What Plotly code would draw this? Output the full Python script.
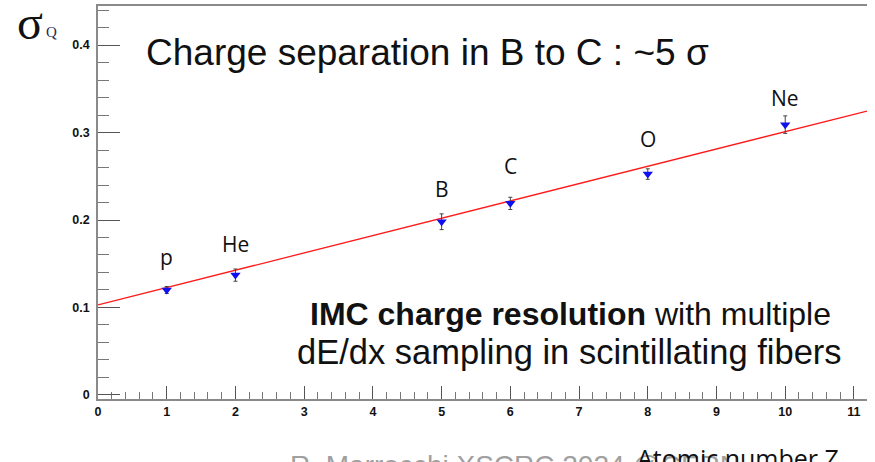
import plotly.graph_objects as go

# ---- data ----
elements = ["p", "He", "B", "C", "O", "Ne"]
atomic_z = [1, 2, 5, 6, 8, 10]
sigma_q = [0.120, 0.137, 0.198, 0.219, 0.2525, 0.309]
sigma_err = [0.004, 0.007, 0.009, 0.007, 0.006, 0.010]
fit_x = [0.0, 11.19]
fit_y = [0.103, 0.3245]
label_y = [0.158, 0.173, 0.236, 0.262, 0.293, 0.340]

W, H = 875, 462
L, R, T, B = 98, 8, 6, 63


def px(xp):
    return (xp - L) / (W - L - R)


def py(yp):
    return 1 - (yp - T) / (H - T - B)


fig = go.Figure()

fig.add_trace(go.Scatter(
    x=fit_x, y=fit_y, mode="lines",
    line=dict(color="#ff1a1a", width=1.3),
    hoverinfo="skip", showlegend=False))

fig.add_trace(go.Scatter(
    x=atomic_z, y=sigma_q, mode="markers",
    marker=dict(symbol="triangle-down", color="#1010ee", size=9, line=dict(width=0)),
    error_y=dict(type="data", array=sigma_err, visible=True,
                 color="#444444", thickness=1, width=2),
    showlegend=False))

for name, z, ly in zip(elements, atomic_z, label_y):
    fig.add_annotation(x=z, y=ly, text=name, showarrow=False,
                       xref="x", yref="y",
                       font=dict(family="Open Sans", size=21, color="#111111"))

fig.add_annotation(x=px(144), y=py(52), xref="paper", yref="paper",
                   text="Charge separation in B to C : ~5 σ",
                   showarrow=False, xanchor="left", yanchor="middle",
                   font=dict(family="Liberation Sans", size=37, color="#111111"))

fig.add_annotation(x=px(570), y=py(314), xref="paper", yref="paper",
                   text="<b>IMC charge resolution</b> with multiple",
                   showarrow=False, xanchor="center", yanchor="middle",
                   font=dict(family="Liberation Sans", size=32, color="#111111"))
fig.add_annotation(x=px(569), y=py(352), xref="paper", yref="paper",
                   text="dE/dx sampling in scintillating fibers",
                   showarrow=False, xanchor="center", yanchor="middle",
                   font=dict(family="Liberation Sans", size=34.5, color="#111111"))

# axis title symbol
fig.add_annotation(x=px(30), y=py(22), xref="paper", yref="paper", text="σ",
                   showarrow=False, xanchor="center", yanchor="middle",
                   font=dict(family="Liberation Serif", size=48, color="#111111"))
fig.add_annotation(x=px(51), y=py(32), xref="paper", yref="paper", text="Q",
                   showarrow=False, xanchor="center", yanchor="middle",
                   font=dict(family="Liberation Serif", size=15, color="#2a2a55"))

# bottom texts (partly cut by the picture edge)
fig.add_annotation(x=px(288), y=py(465), xref="paper", yref="paper",
                   text="R. Marrocchi XSCRC 2024 @CERN",
                   showarrow=False, xanchor="left", yanchor="middle",
                   font=dict(family="Liberation Sans", size=28, color="#a0a0a0"))
fig.add_annotation(x=px(738), y=py(458), xref="paper", yref="paper",
                   text="Atomic number Z",
                   showarrow=False, xanchor="center", yanchor="middle",
                   font=dict(family="Open Sans", size=25, color="#111111"))

axis_font = dict(family="Liberation Sans", size=12.5, color="#111111", weight="bold")

fig.update_layout(
    width=W, height=H,
    margin=dict(l=L, r=R, t=T, b=B, autoexpand=False),
    paper_bgcolor="white", plot_bgcolor="white",
    xaxis=dict(range=[0, 11.19], dtick=1, tick0=0, showgrid=False, zeroline=False,
               automargin=False,
               showline=True, linecolor="#8a8a8a", linewidth=1.5, mirror=True,
               ticks="inside", ticklen=13, tickcolor="#555555", tickwidth=1,
               tickfont=axis_font,
               minor=dict(dtick=0.2, ticks="inside", ticklen=7, tickcolor="#777777", showgrid=False)),
    yaxis=dict(range=[-0.0046, 0.4446], dtick=0.1, tick0=0, showgrid=False, zeroline=False,
               automargin=False,
               showline=True, linecolor="#8a8a8a", linewidth=1.5,
               ticks="inside", ticklen=22, tickcolor="#555555", tickwidth=1,
               tickfont=axis_font, ticklabelstandoff=4,
               minor=dict(dtick=0.02, ticks="inside", ticklen=11, tickcolor="#777777", showgrid=False)),
)

fig.write_html("out.html", config={"displayModeBar": False},
               post_script="document.body.style.margin='0';")
